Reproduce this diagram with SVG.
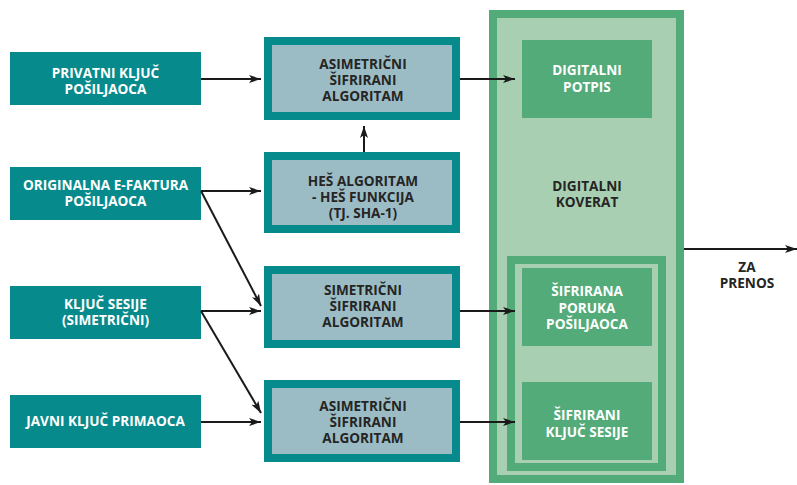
<svg xmlns="http://www.w3.org/2000/svg" width="797" height="485" viewBox="0 0 797 485">
<defs>
<marker id="ah" viewBox="0 0 12 8" refX="12" refY="4" markerWidth="12" markerHeight="8" markerUnits="userSpaceOnUse" orient="auto">
<path d="M0,0 L12,4 L0,8 L3,4 Z" fill="#1a1a1a"/>
</marker>
</defs>
<style>
text{font-family:"Open Sans","Noto Sans","Liberation Sans",sans-serif;font-weight:bold;font-size:13.6px;text-anchor:middle}
.src{fill:#078a8c}
.w{fill:#ffffff}
.d{fill:#252525}
.alg{fill:#9bbcc4;stroke:#078a8c;stroke-width:8}
.g{fill:#52ab78}
.lg{fill:#a9cfb2}
.c{stroke:#1a1a1a;stroke-width:2;fill:none;marker-end:url(#ah)}
</style>
<rect width="797" height="485" fill="#ffffff"/>
<g id="envelope">
<rect x="489" y="10" width="195" height="473" class="g"/>
<rect x="497" y="18" width="179" height="457" class="lg"/>
<text x="587" y="191" class="d">DIGITALNI</text>
<text x="587" y="207" class="d">KOVERAT</text>
</g>
<g id="inner-envelope">
<rect x="507" y="256" width="159" height="215" class="g"/>
<rect x="515" y="264" width="143" height="199" class="lg"/>
</g>
<g id="src1"><rect x="10" y="52" width="191" height="53" class="src"/><text x="105.5" y="77.5" class="w">PRIVATNI KLJUČ</text><text x="105.5" y="93.5" class="w">POŠILJAOCA</text></g>
<g id="src2"><rect x="10" y="167" width="191" height="53" class="src"/><text x="105.5" y="190" class="w">ORIGINALNA E-FAKTURA</text><text x="105.5" y="206" class="w">POŠILJAOCA</text></g>
<g id="src3"><rect x="10" y="286" width="191" height="53" class="src"/><text x="105.5" y="308.5" class="w">KLJUČ SESIJE</text><text x="105.5" y="325" class="w">(SIMETRIČNI)</text></g>
<g id="src4"><rect x="10" y="395" width="191" height="53" class="src"/><text x="105.5" y="426" class="w">JAVNI KLJUČ PRIMAOCA</text></g>
<g id="alg1"><rect x="268" y="41" width="188" height="75" class="alg"/><text x="363" y="68.5" class="d">ASIMETRIČNI</text><text x="363" y="84.5" class="d">ŠIFRIRANI</text><text x="363" y="100.5" class="d">ALGORITAM</text></g>
<g id="hash"><rect x="268" y="156" width="188" height="73" class="alg"/><text x="363" y="186" class="d">HEŠ ALGORITAM</text><text x="363" y="202" class="d">- HEŠ FUNKCIJA</text><text x="363" y="218" class="d">(TJ. SHA-1)</text></g>
<g id="alg2"><rect x="268" y="270" width="188" height="74" class="alg"/><text x="363" y="294.5" class="d">SIMETRIČNI</text><text x="363" y="310.5" class="d">ŠIFRIRANI</text><text x="363" y="326.5" class="d">ALGORITAM</text></g>
<g id="alg3"><rect x="268" y="384" width="188" height="74" class="alg"/><text x="363" y="410.5" class="d">ASIMETRIČNI</text><text x="363" y="426.5" class="d">ŠIFRIRANI</text><text x="363" y="443" class="d">ALGORITAM</text></g>
<g id="sig"><rect x="522" y="40" width="130" height="78" class="g"/><text x="587" y="75" class="w">DIGITALNI</text><text x="587" y="91.5" class="w">POTPIS</text></g>
<g id="msg"><rect x="522" y="268" width="130" height="78" class="g"/><text x="587" y="296" class="w">ŠIFRIRANA</text><text x="587" y="312.5" class="w">PORUKA</text><text x="587" y="328.5" class="w">POŠILJAOCA</text></g>
<g id="key"><rect x="522" y="382" width="130" height="78" class="g"/><text x="587" y="419.5" class="w">ŠIFRIRANI</text><text x="587" y="436.5" class="w">KLJUČ SESIJE</text></g>
<g id="out-label"><text x="747" y="272" class="d">ZA</text><text x="747" y="288" class="d">PRENOS</text></g>
<g id="connectors">
<line x1="201" y1="79" x2="261" y2="79" class="c"/>
<line x1="201" y1="191" x2="261" y2="191" class="c"/>
<line x1="201" y1="191" x2="261" y2="306" class="c"/>
<line x1="201" y1="311" x2="261" y2="311" class="c"/>
<line x1="201" y1="311" x2="261" y2="413" class="c"/>
<line x1="201" y1="422" x2="261" y2="422" class="c"/>
<line x1="364" y1="152" x2="364" y2="126" class="c"/>
<line x1="460" y1="79" x2="515" y2="79" class="c"/>
<line x1="460" y1="311" x2="515" y2="311" class="c"/>
<line x1="460" y1="422" x2="515" y2="422" class="c"/>
<line x1="684" y1="249" x2="797" y2="249" class="c"/>
</g>
</svg>
